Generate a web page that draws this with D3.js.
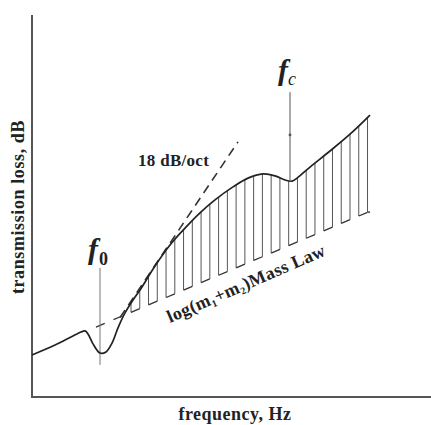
<!DOCTYPE html>
<html>
<head>
<meta charset="utf-8">
<script src="https://cdn.jsdelivr.net/npm/d3@7/dist/d3.min.js"></script>
<style>
  html, body { margin: 0; padding: 0; background: #fff; }
  svg { display: block; }
  text { font-family: "Liberation Serif", "DejaVu Serif", serif; fill: #222; }
</style>
</head>
<body>
<svg id="chart" width="431" height="425"></svg>
<script>
// Transmission loss of a double wall vs. frequency (log frequency, arbitrary units)
const freq = [0, 5.75, 11.25, 13.25, 14, 15.25, 17, 18.5, 20, 21.5, 23.25, 25.25, 27, 30.75,
              34.5, 38.25, 42, 45.75, 50.25, 54, 57.75, 60.75, 63.25, 65, 66.25, 69.5, 74.5, 79.5, 84.5];
const loss = [11.0, 13.6, 16.5, 17.3, 16.5, 13.9, 11.5, 11.8, 14.1, 18.1, 22.0, 25.4, 28.0, 34.3,
              39.8, 44.2, 48.2, 51.6, 55.0, 57.3, 58.4, 57.9, 56.8, 56.5, 57.3, 60.2, 64.4, 68.8, 73.8];

// Mass law line log(m1+m2) and the 18 dB/oct asymptote, as end points [freq, loss]
const massLaw = [[16, 18.3], [84, 48.4]];
const slope18 = [[22, 20.8], [51.5, 66.8]];

// Marked frequencies: resonance f0 and coincidence fc
const f0 = 17, fc = 64.5;
const f0Span = [8.4, 33.8];
const fcSpan = [56.8, 79.8];
const fcDot = 68.6;

const svg = d3.select("#chart");
const x = d3.scaleLinear().domain([0, 100]).range([32, 432]);
const y = d3.scaleLinear().domain([0, 100]).range([397, 15]);

// Axes (no ticks)
svg.append("line").attr("x1", x(0)).attr("x2", x(0)).attr("y1", y(0) + 1).attr("y2", y(100))
  .attr("stroke", "#555").attr("stroke-width", 2);
svg.append("line").attr("x1", x(0) - 1).attr("x2", x(100)).attr("y1", y(0)).attr("y2", y(0))
  .attr("stroke", "#555").attr("stroke-width", 2);

const curveData = freq.map((f, i) => [f, loss[i]]);
const interpLoss = f => {
  const i = d3.bisectRight(freq, f) - 1;
  const j = Math.min(i + 1, freq.length - 1);
  if (i === j) return loss[i];
  const t = (f - freq[i]) / (freq[j] - freq[i]);
  return loss[i] + t * (loss[j] - loss[i]);
};
const massAt = f => massLaw[0][1] + (f - massLaw[0][0]) * (massLaw[1][1] - massLaw[0][1]) / (massLaw[1][0] - massLaw[0][0]);

// Hatching between the curve and the mass law
const step = 2.19;
const hatchX = d3.range(24.75, 84.2, step);
svg.append("g").selectAll("line").data(hatchX).join("line")
  .attr("x1", d => x(d)).attr("x2", d => x(d))
  .attr("y1", d => y(interpLoss(d))).attr("y2", d => y(massAt(d)))
  .attr("stroke", "#555").attr("stroke-width", 1);

// Mass law line, dashed in step with the hatching
const mlx0 = 24.75 - 4 * step;
const mlLen = Math.hypot(x(step) - x(0), y(massAt(step)) - y(massAt(0)));
svg.append("line")
  .attr("x1", x(mlx0)).attr("y1", y(massAt(mlx0)))
  .attr("x2", x(massLaw[1][0])).attr("y2", y(massAt(massLaw[1][0])))
  .attr("stroke", "#333").attr("stroke-width", 1.3)
  .attr("stroke-dasharray", `${mlLen},${mlLen}`);
svg.append("circle").attr("cx", x(massLaw[1][0]) + 1).attr("cy", y(massLaw[1][1]))
  .attr("r", 1.2).attr("fill", "#666");

// 18 dB/oct asymptote
svg.append("line")
  .attr("x1", x(slope18[0][0])).attr("y1", y(slope18[0][1]))
  .attr("x2", x(slope18[1][0])).attr("y2", y(slope18[1][1]))
  .attr("stroke", "#333").attr("stroke-width", 1.6)
  .attr("stroke-dasharray", "9,6");

// f0 and fc markers
svg.append("line").attr("x1", x(f0)).attr("x2", x(f0)).attr("y1", y(f0Span[0])).attr("y2", y(f0Span[1]))
  .attr("stroke", "#777").attr("stroke-width", 1);
svg.append("line").attr("x1", x(fc)).attr("x2", x(fc)).attr("y1", y(fcSpan[0])).attr("y2", y(fcSpan[1]))
  .attr("stroke", "#555").attr("stroke-width", 1);
svg.append("circle").attr("cx", x(fc)).attr("cy", y(fcDot)).attr("r", 1.4).attr("fill", "#555");

// Transmission loss curve
svg.append("path").datum(curveData)
  .attr("d", d3.line().x(d => x(d[0])).y(d => y(d[1])).curve(d3.curveCatmullRom.alpha(0.5)))
  .attr("fill", "none").attr("stroke", "#222").attr("stroke-width", 1.7);

// Labels: bold italic serif f with a subscript
const italicF = sel => sel.append("tspan").text("f")
  .style("font-style", "italic").style("font-weight", "bold").style("font-size", "30px");

const f0Label = svg.append("text").attr("x", x(f0) - 12).attr("y", 259);
italicF(f0Label);
f0Label.append("tspan").text("0").style("font-weight", "bold").style("font-size", "18px").attr("dx", 1).attr("dy", 6);

const fcLabel = svg.append("text").attr("x", x(fc) - 12).attr("y", 80);
italicF(fcLabel);
fcLabel.append("tspan").text("c").style("font-style", "italic").style("font-size", "18px").attr("dx", 0).attr("dy", 5);

svg.append("text").attr("x", 138).attr("y", 166)
  .attr("font-size", 17).attr("font-weight", "bold").attr("letter-spacing", 0.3).text("18 dB/oct");

const ml = svg.append("text")
  .attr("transform", `translate(170,323) rotate(-23.5)`)
  .attr("font-size", 18).attr("font-weight", "bold").attr("letter-spacing", 0.4);
ml.append("tspan").text("log(m");
ml.append("tspan").text("1").attr("font-size", 10).attr("dy", 3);
ml.append("tspan").text("+m").attr("dy", -3);
ml.append("tspan").text("2").attr("font-size", 10).attr("dy", 3);
ml.append("tspan").text(")Mass Law").attr("dy", -3);

svg.append("text").attr("x", 235).attr("y", 420).attr("text-anchor", "middle")
  .attr("font-size", 18).attr("font-weight", "bold").attr("letter-spacing", 0.5).text("frequency, Hz");
svg.append("text").attr("transform", "translate(24,207) rotate(-90)").attr("text-anchor", "middle")
  .attr("font-size", 18).attr("font-weight", "bold").attr("letter-spacing", 0.6).text("transmission loss, dB");
</script>
</body>
</html>
